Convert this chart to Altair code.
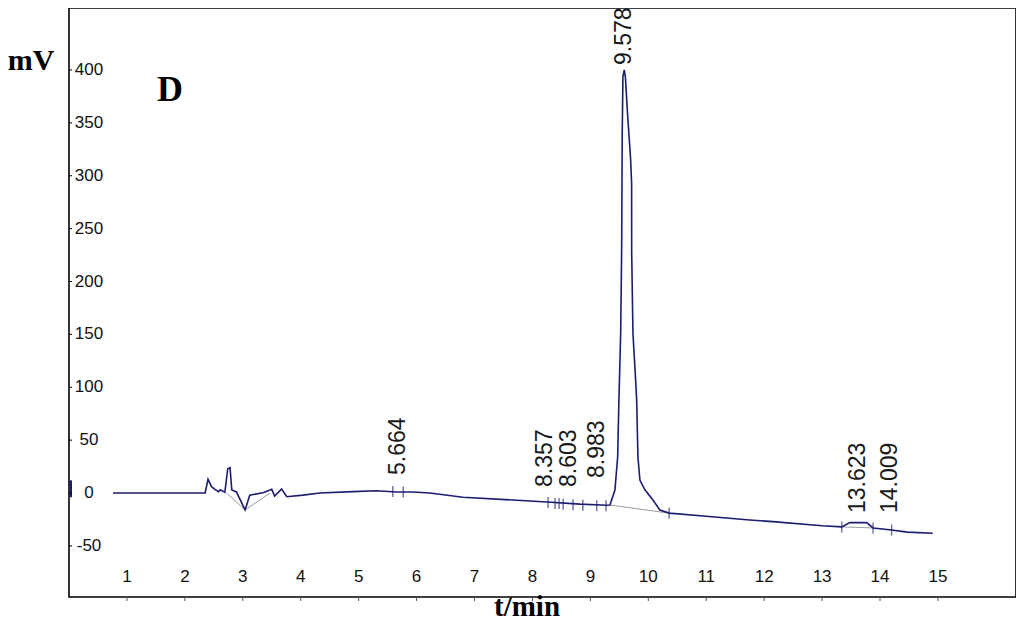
import altair as alt
import pandas as pd

# ---------------- data ----------------
trace_t = [0.76, 2.35, 2.40, 2.46, 2.52, 2.58, 2.61, 2.69, 2.74, 2.78, 2.81, 2.89,
           3.04, 3.12, 3.35, 3.50, 3.55, 3.67, 3.76, 4.04, 4.33, 4.90, 5.30, 5.66,
           5.94, 6.23, 6.80, 7.66, 8.25, 8.82, 9.28, 9.338, 9.424, 9.471, 9.493,
           9.523, 9.540, 9.550, 9.562, 9.585, 9.605, 9.640, 9.695, 9.712, 9.713,
           9.735, 9.781, 9.799, 9.821, 9.856, 9.942, 10.08, 10.20, 10.36, 11.0,
           11.75, 12.15, 13.0, 13.34, 13.48, 13.77, 13.88, 14.2, 14.47, 14.91]
trace_mv = [0, 0, 13, 6, 3.5, 1.2, 3, 0.7, 23, 24, 3, 1,
            -16, -2, 0.3, 3.5, -2.8, 3.8, -3.5, -2, 0, 1.3, 2.2, 1,
            1, 0, -4, -6.6, -8.5, -10.5, -11.5, -11.3, 2.8, 34, 88,
            151, 230, 340, 394, 400, 393, 360, 315, 293, 228,
            151, 107, 88, 34, 12, 3, -6.6, -16, -19, -22,
            -25.5, -27, -31, -32, -28, -28, -33, -35, -37, -38]

base_seg = [1, 1, 1, 2, 2, 3, 3]
base_t = [2.72, 3.04, 3.47, 9.338, 10.36, 13.34, 13.88]
base_mv = [0, -16, 0, -11.3, -19, -32, -33]

marker_t = [5.59, 5.77, 8.27, 8.39, 8.46, 8.53, 8.70, 8.87, 9.11, 9.27,
            10.36, 13.34, 13.88, 14.2]
marker_mv = [1.5, 1, -9, -10, -10, -10.5, -11, -11.5, -12, -12,
             -19, -32, -33, -35]

peak_labels = ["5.664", "8.357", "8.603", "8.983", "9.578", "13.623", "14.009"]
peak_t = [5.664, 8.357, 8.603, 8.983, 9.578, 13.623, 14.009]
label_mv = [17.0, 5.7, 5.7, 14.2, 404.7, -18.9, -18.9]

inject_t = [0.03]
inject_lo = [-4]
inject_hi = [12]

y_ticks = [-50, 0, 50, 100, 150, 200, 250, 300, 350, 400]
x_ticks = [1, 2, 3, 4, 5, 6, 7, 8, 9, 10, 11, 12, 13, 14, 15]

# ---------------- layout / style ----------------
W, H = 947, 589
PX_PER_MIN = 57.93
X_DOMAIN = [0, W / PX_PER_MIN]
Y_DOMAIN = [-98.3, 458.6]
NAVY = "#1c1c70"
LABEL_NUDGE_PX = {"8.357": -8.5, "8.603": 1.5, "8.983": 7.5, "14.009": 9.5, "5.664": 1}

xs = alt.Scale(domain=X_DOMAIN, nice=False, zero=False)
ys = alt.Scale(domain=Y_DOMAIN, nice=False, zero=False)


def X(f="t"):
    return alt.X(f"{f}:Q", scale=xs, axis=None)


def Y(f="mv"):
    return alt.Y(f"{f}:Q", scale=ys, axis=None)


trace_df = pd.DataFrame({"t": trace_t, "mv": trace_mv, "i": range(len(trace_t))})
base_df = pd.DataFrame({"t": base_t, "mv": base_mv, "seg": base_seg})
marker_df = pd.DataFrame({"t": marker_t, "mv": marker_mv})
lab_df = pd.DataFrame({"label": peak_labels, "t": peak_t, "mv": label_mv})
lab_df["t"] = lab_df["t"] + lab_df["label"].map(LABEL_NUDGE_PX).fillna(0) / PX_PER_MIN
inj_df = pd.DataFrame({"t": inject_t, "lo": inject_lo, "hi": inject_hi})
yt_df = pd.DataFrame({"mv": y_ticks, "label": [str(v) for v in y_ticks]})
xt_df = pd.DataFrame({"t": x_ticks, "label": [str(v) for v in x_ticks]})

baseline = alt.Chart(base_df).mark_line(color="#9a9a9a", strokeWidth=1).encode(
    x=X(), y=Y(), detail="seg:N")

trace = alt.Chart(trace_df).mark_line(color=NAVY, strokeWidth=1.6).encode(
    x=X(), y=Y(), order=alt.Order("i:Q"))

markers = alt.Chart(marker_df).mark_tick(
    orient="vertical", size=11, thickness=1.3, color=NAVY).encode(x=X(), y=Y())

inject = alt.Chart(inj_df).mark_rule(color=NAVY, strokeWidth=2.5).encode(
    x=X(), y=Y("lo"), y2="hi:Q")

peak_text = alt.Chart(lab_df).mark_text(
    angle=270, align="left", baseline="middle", fontSize=23,
    font="Liberation Sans", color="#1a1a1a").encode(x=X(), y=Y(), text="label:N")

ytick_rules = alt.Chart(yt_df).mark_rule(color="black", strokeWidth=1).encode(
    x=alt.value(0), x2=alt.value(3), y=Y())
ytick_text = alt.Chart(yt_df).mark_text(
    align="center", baseline="middle", fontSize=17, font="Liberation Sans",
    color="#111111").encode(x=alt.value(20), y=Y(), text="label:N")

xtick_rules = alt.Chart(xt_df).mark_rule(color="#555555", strokeWidth=1).encode(
    x=X(), y=alt.value(H), y2=alt.value(H + 4))
xtick_text = alt.Chart(xt_df).mark_text(
    align="center", baseline="middle", fontSize=17, font="Liberation Sans",
    color="#111111").encode(x=X(), y=alt.value(569), text="label:N")

one = pd.DataFrame({"a": [0]})
title_d = alt.Chart(one).mark_text(
    text="D", fontSize=36, font="Liberation Serif", fontWeight="bold",
    color="black", align="center", baseline="middle").encode(
    x=alt.value(101), y=alt.value(82))
title_y = alt.Chart(one).mark_text(
    text="mV", fontSize=30, font="Liberation Serif", fontWeight="bold",
    color="black", align="center", baseline="middle").encode(
    x=alt.value(-38), y=alt.value(53))
title_x = alt.Chart(one).mark_text(
    text="t/min", fontSize=29, font="Liberation Serif", fontWeight="bold",
    color="black", align="center", baseline="alphabetic").encode(
    x=alt.value(458), y=alt.value(608))

chart = alt.layer(
    baseline, trace, markers, inject, peak_text,
    ytick_rules, ytick_text, xtick_rules, xtick_text,
    title_d, title_y, title_x,
).properties(
    width=W, height=H,
    autosize=alt.AutoSizeParams(type="none"),
    padding={"left": 61, "top": 0, "right": 0, "bottom": 24},
    background="white",
).configure_view(stroke="black", strokeWidth=1.6)

chart.save("out.html", embed_options={"renderer": "svg", "actions": False})
